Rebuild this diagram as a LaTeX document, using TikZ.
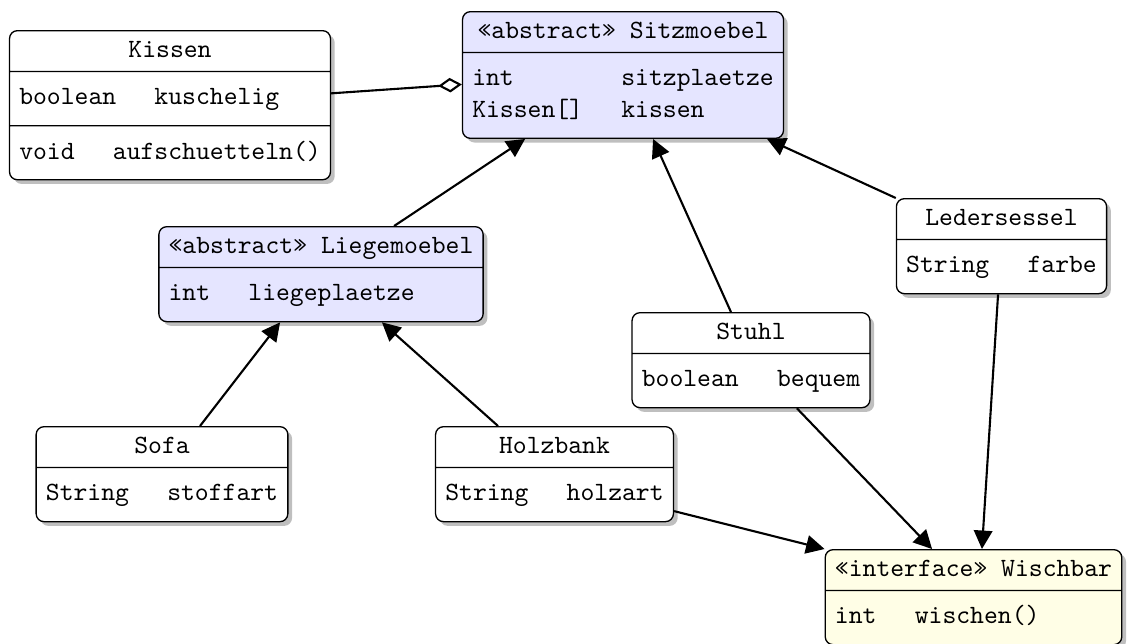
\documentclass[tikz,border=0pt]{standalone}
\usetikzlibrary{shapes.multipart, shadows, arrows.meta}

\newcommand{\umlhead}[1]{\rule[-0.9pt]{0pt}{7pt}\smash{#1}}
\newcommand{\umlrows}[1]{\begin{tabular}{@{}l@{\hspace{14.5pt}}l@{}}#1\end{tabular}}

\begin{document}
\begin{tikzpicture}[
  x=0.379pt, y=-0.379pt,
  umlclass/.style={rectangle split, rectangle split parts=#1, rectangle split part align={center,left,left},
    draw=black, line width=0.5pt, rounded corners=3pt, fill=white, inner xsep=3.7pt, inner ysep=4pt,
    font=\ttfamily, anchor=north,
    drop shadow={shadow xshift=1.6pt, shadow yshift=-1.6pt, fill=black!25, opacity=1}},
  umlclass/.default=2,
  abstractclass/.style={umlclass=2, fill=blue!10},
  interfaceclass/.style={umlclass=2, fill=yellow!10},
  arrow/.style={thick, -{Triangle[length=7pt, width=7pt]}},
  aggregation/.style={thick, -{Diamond[open, length=9pt, width=5.5pt]}}
]
\useasboundingbox (0,0) rectangle (1129,643);

\node (kissen) [umlclass=3] at (170,30) {\umlhead{Kissen}
  \nodepart{second}\umlrows{boolean & kuschelig}
  \nodepart{third}\umlrows{void & aufschuetteln()}};
\node (sitz) [abstractclass] at (623,11) {\umlhead{«abstract» Sitzmoebel}
  \nodepart{second}\umlrows{int & sitzplaetze\\ Kissen[] & kissen}};
\node (liege) [abstractclass] at (321,226) {\umlhead{«abstract» Liegemoebel}
  \nodepart{second}\umlrows{int & liegeplaetze}};
\node (leder) [umlclass] at (1001.5,198) {\umlhead{Ledersessel}
  \nodepart{second}\umlrows{String & farbe}};
\node (stuhl) [umlclass] at (751,312) {\umlhead{Stuhl}
  \nodepart{second}\umlrows{boolean & bequem}};
\node (sofa) [umlclass] at (162,426) {\umlhead{Sofa}
  \nodepart{second}\umlrows{String & stoffart}};
\node (holz) [umlclass] at (554.5,426) {\umlhead{Holzbank}
  \nodepart{second}\umlrows{String & holzart}};
\node (wisch) [interfaceclass] at (973.5,549) {\umlhead{«interface» Wischbar}
  \nodepart{second}\umlrows{int & wischen()}};

\draw [aggregation] ([yshift=2pt]kissen.second east) -- ([yshift=4.2pt]sitz.second west);
\draw [arrow] ([xshift=27.7pt]liege.north) -- ([xshift=-37.1pt]sitz.south);
\draw [arrow] ([xshift=-7.6pt]stuhl.north) -- ([xshift=11.4pt]sitz.south);
\draw [arrow] (leder.north west) -- ([xshift=54.6pt]sitz.south);
\draw [arrow] ([xshift=14.4pt]sofa.north) -- ([xshift=-15.5pt]liege.south);
\draw [arrow] ([xshift=-21.4pt]holz.north) -- ([xshift=23.1pt]liege.south);
\draw [arrow] ([yshift=-14pt]holz.east) -- (wisch.north west);
\draw [arrow] ([xshift=17.4pt]stuhl.south) -- ([xshift=-15.7pt]wisch.north);
\draw [arrow] ([xshift=-1.3pt]leder.south) -- ([xshift=3.2pt]wisch.north);
\end{tikzpicture}
\end{document}
